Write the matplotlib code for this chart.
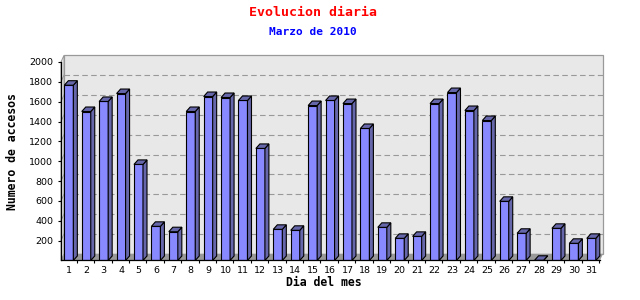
import matplotlib
matplotlib.use('Agg')
import matplotlib.pyplot as plt
from matplotlib.patches import Polygon, Rectangle
import numpy as np

# visits per day, March 2010
days = list(range(1, 32))
visits = [1766, 1501, 1602, 1682, 968, 344, 290, 1501, 1652, 1642,
          1612, 1129, 314, 304, 1561, 1612, 1581, 1330, 334, 223,
          243, 1581, 1692, 1511, 1410, 596, 274, 2, 324, 173, 223]
yticks = list(range(200, 2001, 200))

title = 'Evolucion diaria'
subtitle = 'Marzo de 2010'
xlabel = 'Dia del mes'
ylabel = 'Numero de accesos'

front = '#8888ff'
side = '#6666aa'
panel = '#e8e8e8'
grey = '#999999'

fig = plt.figure(figsize=(6.4, 3.0), dpi=100)
ax = fig.add_axes([61 / 640, 0.1317, 539 / 640, 0.6617])
ax.set_xlim(0.55, 31.5)
ax.set_ylim(0, 2000)
ax.patch.set_visible(False)

# 3d depth in data units (pixels / pixels-per-unit)
pxx = 539 / (31.5 - 0.55)
pxy = 198.5 / 2000
pdx, pdy = 3 / pxx, 6.7 / pxy      # back wall
bdx, bdy = 4 / pxx, 4.5 / pxy      # bars
x0, x1 = 0.55, 31.5

# back wall, left wall, floor
ax.add_patch(Rectangle((x0 + pdx, pdy), x1 - x0, 2000, facecolor=panel,
                       edgecolor=grey, lw=0.9, zorder=0, clip_on=False))
ax.add_patch(Polygon([(x0, 0), (x0 + pdx, pdy), (x0 + pdx, 2000 + pdy), (x0, 2000)],
                     closed=True, facecolor=panel, edgecolor=grey, lw=0.7,
                     zorder=0.5, clip_on=False))
ax.add_patch(Polygon([(x0, 0), (x1, 0), (x1 + pdx, pdy), (x0 + pdx, pdy)],
                     closed=True, facecolor=grey, edgecolor='none',
                     zorder=0.6, clip_on=False))

# grid on the back wall
for t in yticks[:-1]:
    ax.plot([x0 + pdx, x1 + pdx], [t + pdy, t + pdy], color=grey, lw=0.8,
            ls=(0, (5, 3)), zorder=1, clip_on=False)
    ax.plot([x0, x0 + pdx], [t, t + pdy], color=grey, lw=0.7, zorder=1, clip_on=False)

# bars
w = 9 / pxx
ax.bar(days, visits, width=w, color=front, edgecolor='black', lw=0.8, zorder=3)
for d, v in zip(days, visits):
    xl, xr = d - w / 2, d + w / 2
    ax.add_patch(Polygon([(xr, 0), (xr + bdx, bdy), (xr + bdx, v + bdy), (xr, v)],
                         closed=True, facecolor=side, edgecolor='black', lw=0.8,
                         zorder=3, clip_on=False))
    ax.add_patch(Polygon([(xl, v), (xl + bdx, v + bdy), (xr + bdx, v + bdy), (xr, v)],
                         closed=True, facecolor=side, edgecolor='black', lw=0.8,
                         zorder=3, clip_on=False))

for s in ['top', 'right']:
    ax.spines[s].set_visible(False)
for s in ['left', 'bottom']:
    ax.spines[s].set_linewidth(0.9)
    ax.spines[s].set_zorder(4)

ax.set_yticks(yticks)
ax.set_yticklabels([str(t) for t in yticks], fontsize=6.8, family='DejaVu Sans')
ax.tick_params(axis='y', direction='out', length=2.5, width=0.8, pad=3)

ax.set_xticks([d + 0.45 for d in days])
ax.set_xticklabels([])
ax.set_xticks(days, minor=True)
ax.set_xticklabels([str(d) for d in days], minor=True, fontsize=6.8, family='DejaVu Sans')
ax.tick_params(axis='x', which='major', direction='out', length=2.5, width=0.8)
ax.tick_params(axis='x', which='minor', length=0, pad=4)

fig.text(313 / 640, 1 - 13 / 300, title, color='red', fontsize=9.5, fontweight='bold',
         family='DejaVu Sans Mono', ha='center', va='center')
fig.text(313 / 640, 1 - 32 / 300, subtitle, color='blue', fontsize=8, fontweight='bold',
         family='DejaVu Sans Mono', ha='center', va='center')
fig.text(324 / 640, 1 - 282 / 300, xlabel, color='black', fontsize=8.3, fontweight='bold',
         family='DejaVu Sans Mono', ha='center', va='center')
fig.text(13 / 640, 1 - 152 / 300, ylabel, color='black', fontsize=8.3, fontweight='bold',
         family='DejaVu Sans Mono', ha='center', va='center', rotation=90)

fig.savefig('out.png', dpi=100)
